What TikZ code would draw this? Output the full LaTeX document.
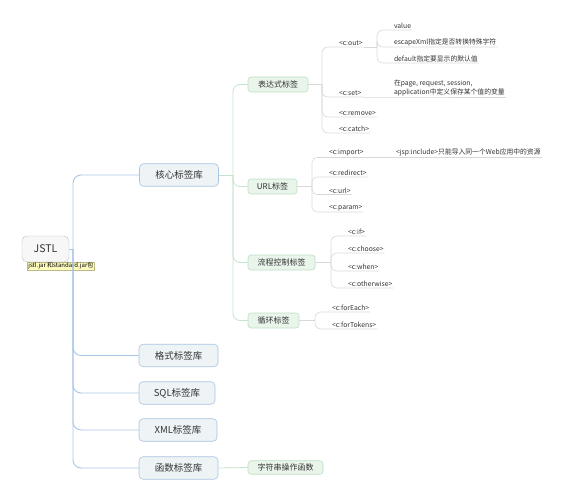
\documentclass[tikz,border=0pt]{standalone}
\usepackage{fontspec}
\setmainfont{Noto Sans CJK SC}
\definecolor{blueL}{HTML}{A9C5E6}
\definecolor{greenL}{HTML}{C3E3CA}
\definecolor{grayL}{HTML}{D6D9D6}
\definecolor{mainfill}{HTML}{EEF3F6}
\definecolor{maindraw}{HTML}{A9C4E2}
\definecolor{gfill}{HTML}{E9F5EB}
\definecolor{gdraw}{HTML}{BCDFC3}
\definecolor{txt}{HTML}{333333}
\begin{document}
\begin{tikzpicture}[x=1pt,y=-1pt,
  bline/.style={draw=blueL,line width=0.9pt},
  gline/.style={draw=greenL,line width=0.8pt},
  lline/.style={draw=grayL,line width=0.6pt},
  rootbox/.style={draw=black!25,fill=black!3,rounded corners=5pt,minimum width=47pt,minimum height=26pt,inner sep=0pt,font=\fontsize{10.5}{12}\selectfont,text=txt},
  notebox/.style={draw=yellow!50!black!60,fill=yellow!25,inner xsep=1.2pt,inner ysep=0.6pt,font=\fontsize{6}{6.5}\selectfont,anchor=north west,text=black},
  mainbox/.style={draw=maindraw,fill=mainfill,rounded corners=4pt,minimum height=22.5pt,inner sep=0pt,font=\fontsize{9.5}{11}\selectfont,text=txt,line width=0.6pt},
  subbox/.style={draw=gdraw,fill=gfill,rounded corners=3pt,minimum height=15pt,inner sep=0pt,font=\fontsize{8}{9}\selectfont,text=txt,line width=0.6pt},
  leaf/.style={anchor=south west,inner xsep=0.8pt,inner ysep=1.2pt,font=\fontsize{6.8}{8.5}\selectfont,text=txt,align=left},
]
\useasboundingbox (0,0) rectangle (564,500);

% root
\node[rootbox] (jstl) at (45.5,249) {JSTL};
\node[notebox] (note) at (27,262) {jstl.jar 和standard.jar包};

% main level
\node[mainbox,minimum width=79pt] (core) at (179,175) {核心标签库};
\node[mainbox,minimum width=79pt] (fmt) at (178.5,355.5) {格式标签库};
\node[mainbox,minimum width=76pt] (sql) at (177,393) {SQL标签库};
\node[mainbox,minimum width=78pt] (xml) at (178,430) {XML标签库};
\node[mainbox,minimum width=79pt] (fn) at (178.5,468) {函数标签库};

\coordinate (jt) at (73,249);
\draw[bline] (jstl.east) -- (jt);
\foreach \c in {core,fmt,sql,xml,fn}{
  \draw[bline,rounded corners=8pt] (jt) |- (\c.west);
}

% function child
\node[subbox,minimum width=75pt,minimum height=13.5pt] (strfn) at (285.5,467.5) {字符串操作函数};
\draw[gline] (fn.east) -- (strfn.west);

% second level
\node[subbox,minimum width=60pt] (expr) at (278,84.5) {表达式标签};
\node[subbox,minimum width=49pt] (url) at (272.5,186.5) {URL标签};
\node[subbox,minimum width=67pt] (flow) at (281.5,262.5) {流程控制标签};
\node[subbox,minimum width=51pt] (loop) at (273.5,320.5) {循环标签};

\coordinate (ct) at (233,175);
\draw[gline] (core.east) -- (ct);
\foreach \c in {expr,url,flow,loop}{
  \draw[gline,rounded corners=7pt] (ct) |- (\c.west);
}

% expression tags
\node[leaf] (cout) at (338,47) {<c:out>};
\node[leaf] (cset) at (338,97) {<c:set>};
\node[leaf] (cremove) at (338,117) {<c:remove>};
\node[leaf] (ccatch) at (338,133) {<c:catch>};
\coordinate (et) at (322,84.5);
\draw[lline] (expr.east) -- (et);
\foreach \c in {cout,cset,cremove,ccatch}{
  \draw[lline,rounded corners=6pt] (et) |- (\c.south west) -- (\c.south east);
}

\node[leaf] (value) at (393,30) {value};
\node[leaf] (escape) at (393,47) {escapeXml指定是否转换特殊字符};
\node[leaf] (default) at (393,63) {default指定要显示的默认值};
\coordinate (ot) at (377,47);
\draw[lline] (cout.south east) -- (ot);
\foreach \c in {value,escape,default}{
  \draw[lline,rounded corners=6pt] (ot) |- (\c.south west) -- (\c.south east);
}

\node[leaf] (setd) at (393,97) {在page, request, session,\\application中定义保存某个值的变量};
\draw[lline] (cset.south east) -- (setd.south west) -- (setd.south east);

% URL tags
\node[leaf] (cimport) at (328,157.5) {<c:import>};
\node[leaf] (credirect) at (328,177) {<c:redirect>};
\node[leaf] (curl) at (328,194.5) {<c:url>};
\node[leaf] (cparam) at (328,212) {<c:param>};
\coordinate (ut) at (312,186.5);
\draw[lline] (url.east) -- (ut);
\foreach \c in {cimport,credirect,curl,cparam}{
  \draw[lline,rounded corners=5pt] (ut) |- (\c.south west) -- (\c.south east);
}
\node[leaf] (jspinc) at (395,157.5) {<jsp:include>只能导入同一个Web应用中的资源};
\draw[lline] (cimport.south east) -- (jspinc.south west) -- (jspinc.south east);

% flow control tags
\node[leaf] (cif) at (347,236) {<c:if>};
\node[leaf] (cchoose) at (347,253) {<c:choose>};
\node[leaf] (cwhen) at (347,271) {<c:when>};
\node[leaf] (cother) at (347,288) {<c:otherwise>};
\coordinate (ft) at (331,262.5);
\draw[lline] (flow.east) -- (ft);
\foreach \c in {cif,cchoose,cwhen,cother}{
  \draw[lline,rounded corners=6pt] (ft) |- (\c.south west) -- (\c.south east);
}

% loop tags
\node[leaf] (cforeach) at (331,312) {<c:forEach>};
\node[leaf] (cfortok) at (331,329) {<c:forTokens>};
\coordinate (lt) at (315,320.5);
\draw[lline] (loop.east) -- (lt);
\foreach \c in {cforeach,cfortok}{
  \draw[lline,rounded corners=6pt] (lt) |- (\c.south west) -- (\c.south east);
}
\end{tikzpicture}
\end{document}
